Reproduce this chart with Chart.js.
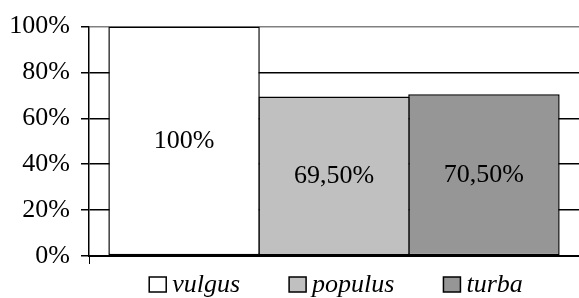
<!DOCTYPE html>
<html lang="la">
<head>
    <meta charset="UTF-8">
    <title>vulgus / populus / turba</title>
    <script src="https://cdn.jsdelivr.net/npm/chart.js"></script>
    <style>
        html, body { margin: 0; padding: 0; background: #fff; overflow: hidden; }
        #caixa { width: 579px; height: 298px; }
    </style>
</head>
<body>
    <div id="caixa">
        <canvas id="grafico" width="579" height="298"></canvas>
    </div>

<script>
    // dados
    var categorias = [''];
    var series = ['vulgus', 'populus', 'turba'];
    var valores = [100, 69.5, 70.5];
    var rotulos = ['100%', '69,50%', '70,50%'];
    var ticksY = [0, 20, 40, 60, 80, 100];

    var cores = ['#ffffff', '#c0c0c0', '#969696'];
    var fonte = 'Liberation Serif';

    // escreve o valor no meio de cada barra
    const rotulosBarras = {
        id: 'rotulosBarras',
        afterDatasetsDraw(chart) {
            const ctx = chart.ctx;
            ctx.save();
            ctx.font = '26px "' + fonte + '"';
            ctx.fillStyle = '#000';
            ctx.textAlign = 'center';
            ctx.textBaseline = 'middle';
            chart.data.datasets.forEach(function (ds, i) {
                const barra = chart.getDatasetMeta(i).data[0];
                ctx.fillText(rotulos[i], barra.x, (barra.y + barra.base) / 2);
            });
            ctx.restore();
        }
    };

    // legenda desenhada a mao (a do Chart.js usa o mesmo padding na vertical)
    const legendaBaixo = {
        id: 'legendaBaixo',
        afterDraw(chart) {
            const ctx = chart.ctx;
            const area = chart.chartArea;
            const caixa = 17, folga = 6, entre = 49;
            const y = area.bottom + 29;
            ctx.save();
            ctx.font = 'italic 26px "' + fonte + '"';
            const larguras = chart.data.datasets.map(ds => ctx.measureText(ds.label).width);
            let total = entre * (larguras.length - 1);
            larguras.forEach(w => { total += caixa + folga + w; });
            let x = (area.left + area.right) / 2 - total / 2 + 2;
            chart.data.datasets.forEach(function (ds, i) {
                ctx.fillStyle = ds.backgroundColor;
                ctx.fillRect(x, y - 8, caixa, 15);
                ctx.lineWidth = 1.5;
                ctx.strokeStyle = '#000';
                ctx.strokeRect(x, y - 8, caixa, 15);
                ctx.fillStyle = '#000';
                ctx.textBaseline = 'middle';
                ctx.fillText(ds.label, x + caixa + folga, y);
                x += caixa + folga + larguras[i] + entre;
            });
            ctx.restore();
        }
    };

    let dados = {
        labels: categorias,
        datasets: series.map(function (nome, i) {
            return {
                label: nome,
                data: [valores[i]],
                backgroundColor: cores[i],
                borderColor: '#000',
                borderWidth: 1.5,
                borderSkipped: false,
                categoryPercentage: 0.918,
                barPercentage: 1.01
            };
        })
    };

    const config = {
        type: 'bar',
        data: dados,
        options: {
            responsive: false,
            animation: false,
            layout: { padding: { top: 11, left: 10, right: 0, bottom: 34 } },
            plugins: {
                tooltip: { enabled: false },
                legend: { display: false }
            },
            scales: {
                x: {
                    ticks: { display: false },
                    grid: {
                        drawOnChartArea: false,
                        drawTicks: true,
                        tickLength: 8,
                        color: '#000'
                    },
                    border: { color: '#000', width: 2 }
                },
                y: {
                    min: 0,
                    max: 100,
                    afterBuildTicks: function (eixo) {
                        eixo.ticks = ticksY.map(function (v) { return { value: v }; });
                    },
                    afterFit: function (eixo) { eixo.width = 79; },
                    ticks: {
                        color: '#000',
                        padding: 11,
                        font: { family: fonte, size: 26 },
                        callback: function (v) { return v + '%'; }
                    },
                    grid: {
                        tickLength: 8,
                        tickColor: '#000',
                        color: function (c) { return c.tick && c.tick.value === 100 ? '#808080' : '#000'; },
                        lineWidth: 1.5
                    },
                    border: { color: '#000', width: 1.5 }
                }
            }
        },
        plugins: [rotulosBarras, legendaBaixo]
    };

    let meuGrafico = new Chart(document.getElementById('grafico'), config);
</script>
</body>
</html>
